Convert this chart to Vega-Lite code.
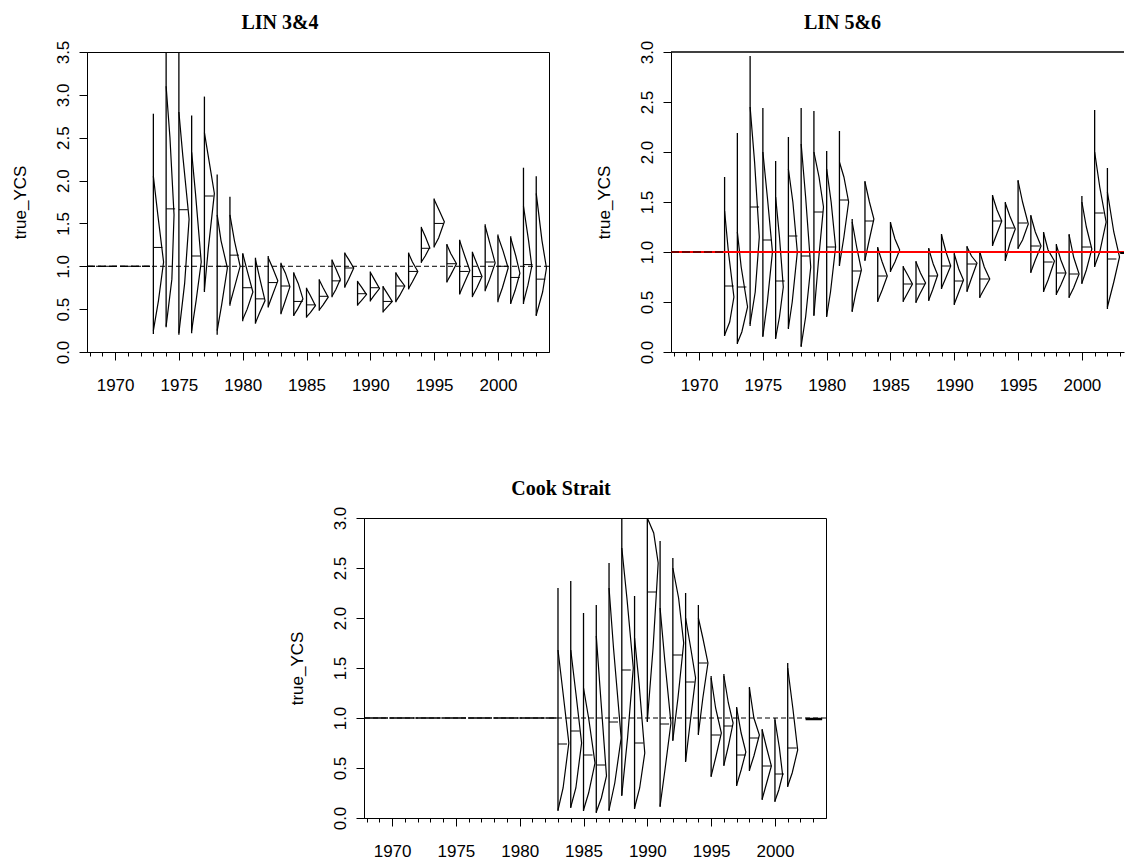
{
"$schema": "https://vega.github.io/schema/vega-lite/v6.json",
"padding": {"left": 10, "top": 12, "right": 0, "bottom": 0},
"background": "white",
"config": {
 "view": {"stroke": "black", "strokeWidth": 1},
 "font": "Liberation Sans",
 "axis": {"domainColor": "black", "tickColor": "black", "labelColor": "black", "titleColor": "black", "labelFont": "Liberation Sans", "titleFont": "Liberation Sans", "labelFontSize": 17, "titleFontSize": 17, "titleFontWeight": "normal", "grid": false, "domainWidth": 1, "tickWidth": 1, "labelFlush": false, "labelOverlap": false},
 "axisY": {"labelAngle": -90, "labelAlign": "center", "labelBaseline": "bottom", "tickSize": 8, "labelPadding": 7, "titlePadding": 25},
 "axisX": {"labelPadding": 17},
 "title": {"font": "Liberation Serif", "fontSize": 20, "fontWeight": "bold", "color": "black", "anchor": "middle", "frame": "group", "baseline": "alphabetic", "offset": 7}
},
"datasets": {
 "s1": [
  {"yr":1973,"lo":0.21,"hi":2.78,"med":1.22},{"yr":1974,"lo":0.29,"hi":3.5,"med":1.67},{"yr":1975,"lo":0.2,"hi":3.5,"med":1.66},{"yr":1976,"lo":0.22,"hi":2.76,"med":1.12},{"yr":1977,"lo":0.7,"hi":2.98,"med":1.82},{"yr":1978,"lo":0.2,"hi":2.07,"med":1.0},{"yr":1979,"lo":0.54,"hi":1.81,"med":1.13},{"yr":1980,"lo":0.36,"hi":1.15,"med":0.75},{"yr":1981,"lo":0.33,"hi":1.1,"med":0.62},{"yr":1982,"lo":0.52,"hi":1.12,"med":0.81},{"yr":1983,"lo":0.44,"hi":1.04,"med":0.77},{"yr":1984,"lo":0.42,"hi":0.93,"med":0.59},{"yr":1985,"lo":0.4,"hi":0.75,"med":0.55},{"yr":1986,"lo":0.48,"hi":0.85,"med":0.65},{"yr":1987,"lo":0.64,"hi":1.08,"med":0.83},{"yr":1988,"lo":0.75,"hi":1.16,"med":0.98},{"yr":1989,"lo":0.54,"hi":0.83,"med":0.68},{"yr":1990,"lo":0.59,"hi":0.94,"med":0.75},{"yr":1991,"lo":0.46,"hi":0.77,"med":0.59},{"yr":1992,"lo":0.58,"hi":0.93,"med":0.77},{"yr":1993,"lo":0.73,"hi":1.16,"med":0.94},{"yr":1994,"lo":1.04,"hi":1.46,"med":1.21},{"yr":1995,"lo":1.22,"hi":1.79,"med":1.5},{"yr":1996,"lo":0.81,"hi":1.26,"med":1.03},{"yr":1997,"lo":0.67,"hi":1.31,"med":0.94},{"yr":1998,"lo":0.64,"hi":1.17,"med":0.88},{"yr":1999,"lo":0.71,"hi":1.49,"med":1.05},{"yr":2000,"lo":0.58,"hi":1.37,"med":1.0},{"yr":2001,"lo":0.56,"hi":1.35,"med":0.87},{"yr":2002,"lo":0.56,"hi":2.15,"med":1.02},{"yr":2003,"lo":0.42,"hi":2.05,"med":0.85}
 ],
 "c1": [
  {"yr":1973,"x":1973,"y":2.05},{"yr":1973,"x":1973.35,"y":1.6},{"yr":1973,"x":1973.8,"y":1.05},{"yr":1973,"x":1973.4,"y":0.6},{"yr":1973,"x":1973,"y":0.25},
  {"yr":1974,"x":1974,"y":3.1},{"yr":1974,"x":1974.3,"y":2.5},{"yr":1974,"x":1974.62,"y":1.6},{"yr":1974,"x":1974.45,"y":0.85},{"yr":1974,"x":1974,"y":0.3},
  {"yr":1975,"x":1975,"y":2.8},{"yr":1975,"x":1975.3,"y":2.3},{"yr":1975,"x":1975.8,"y":1.55},{"yr":1975,"x":1975.45,"y":0.8},{"yr":1975,"x":1975,"y":0.22},
  {"yr":1976,"x":1976,"y":2.33},{"yr":1976,"x":1976.3,"y":1.85},{"yr":1976,"x":1976.75,"y":1.05},{"yr":1976,"x":1976.35,"y":0.6},{"yr":1976,"x":1976,"y":0.25},
  {"yr":1977,"x":1977,"y":2.56},{"yr":1977,"x":1977.45,"y":2.15},{"yr":1977,"x":1977.78,"y":1.85},{"yr":1977,"x":1977.3,"y":1.2},{"yr":1977,"x":1977,"y":0.72},
  {"yr":1978,"x":1978,"y":1.6},{"yr":1978,"x":1978.3,"y":1.3},{"yr":1978,"x":1978.8,"y":0.98},{"yr":1978,"x":1978.35,"y":0.55},{"yr":1978,"x":1978,"y":0.25},
  {"yr":1979,"x":1979,"y":1.6},{"yr":1979,"x":1979.35,"y":1.3},{"yr":1979,"x":1979.8,"y":1.0},{"yr":1979,"x":1979.35,"y":0.75},{"yr":1979,"x":1979,"y":0.56},
  {"yr":1980,"x":1980,"y":1.15},{"yr":1980,"x":1980.35,"y":0.95},{"yr":1980,"x":1980.8,"y":0.7},{"yr":1980,"x":1980.35,"y":0.5},{"yr":1980,"x":1980,"y":0.38},
  {"yr":1981,"x":1981,"y":1.08},{"yr":1981,"x":1981.35,"y":0.85},{"yr":1981,"x":1981.75,"y":0.6},{"yr":1981,"x":1981.3,"y":0.45},{"yr":1981,"x":1981,"y":0.34},
  {"yr":1982,"x":1982,"y":1.1},{"yr":1982,"x":1982.35,"y":0.98},{"yr":1982,"x":1982.75,"y":0.83},{"yr":1982,"x":1982.3,"y":0.65},{"yr":1982,"x":1982,"y":0.53},
  {"yr":1983,"x":1983,"y":1.03},{"yr":1983,"x":1983.35,"y":0.92},{"yr":1983,"x":1983.7,"y":0.76},{"yr":1983,"x":1983.3,"y":0.58},{"yr":1983,"x":1983,"y":0.45},
  {"yr":1984,"x":1984,"y":0.92},{"yr":1984,"x":1984.35,"y":0.8},{"yr":1984,"x":1984.72,"y":0.62},{"yr":1984,"x":1984.3,"y":0.5},{"yr":1984,"x":1984,"y":0.43},
  {"yr":1985,"x":1985,"y":0.74},{"yr":1985,"x":1985.3,"y":0.66},{"yr":1985,"x":1985.7,"y":0.54},{"yr":1985,"x":1985.3,"y":0.46},{"yr":1985,"x":1985,"y":0.41},
  {"yr":1986,"x":1986,"y":0.84},{"yr":1986,"x":1986.3,"y":0.75},{"yr":1986,"x":1986.7,"y":0.64},{"yr":1986,"x":1986.3,"y":0.55},{"yr":1986,"x":1986,"y":0.49},
  {"yr":1987,"x":1987,"y":1.07},{"yr":1987,"x":1987.3,"y":0.97},{"yr":1987,"x":1987.65,"y":0.85},{"yr":1987,"x":1987.3,"y":0.73},{"yr":1987,"x":1987,"y":0.65},
  {"yr":1988,"x":1988,"y":1.15},{"yr":1988,"x":1988.3,"y":1.08},{"yr":1988,"x":1988.7,"y":0.98},{"yr":1988,"x":1988.3,"y":0.85},{"yr":1988,"x":1988,"y":0.76},
  {"yr":1989,"x":1989,"y":0.82},{"yr":1989,"x":1989.3,"y":0.76},{"yr":1989,"x":1989.7,"y":0.67},{"yr":1989,"x":1989.3,"y":0.6},{"yr":1989,"x":1989,"y":0.55},
  {"yr":1990,"x":1990,"y":0.93},{"yr":1990,"x":1990.3,"y":0.85},{"yr":1990,"x":1990.72,"y":0.74},{"yr":1990,"x":1990.3,"y":0.66},{"yr":1990,"x":1990,"y":0.6},
  {"yr":1991,"x":1991,"y":0.76},{"yr":1991,"x":1991.3,"y":0.69},{"yr":1991,"x":1991.72,"y":0.59},{"yr":1991,"x":1991.3,"y":0.52},{"yr":1991,"x":1991,"y":0.47},
  {"yr":1992,"x":1992,"y":0.92},{"yr":1992,"x":1992.3,"y":0.85},{"yr":1992,"x":1992.7,"y":0.77},{"yr":1992,"x":1992.3,"y":0.66},{"yr":1992,"x":1992,"y":0.59},
  {"yr":1993,"x":1993,"y":1.15},{"yr":1993,"x":1993.3,"y":1.05},{"yr":1993,"x":1993.72,"y":0.94},{"yr":1993,"x":1993.3,"y":0.82},{"yr":1993,"x":1993,"y":0.74},
  {"yr":1994,"x":1994,"y":1.45},{"yr":1994,"x":1994.3,"y":1.35},{"yr":1994,"x":1994.65,"y":1.22},{"yr":1994,"x":1994.3,"y":1.12},{"yr":1994,"x":1994,"y":1.05},
  {"yr":1995,"x":1995,"y":1.78},{"yr":1995,"x":1995.4,"y":1.65},{"yr":1995,"x":1995.8,"y":1.52},{"yr":1995,"x":1995.35,"y":1.33},{"yr":1995,"x":1995,"y":1.23},
  {"yr":1996,"x":1996,"y":1.25},{"yr":1996,"x":1996.3,"y":1.15},{"yr":1996,"x":1996.75,"y":1.03},{"yr":1996,"x":1996.3,"y":0.9},{"yr":1996,"x":1996,"y":0.82},
  {"yr":1997,"x":1997,"y":1.3},{"yr":1997,"x":1997.4,"y":1.12},{"yr":1997,"x":1997.8,"y":0.95},{"yr":1997,"x":1997.35,"y":0.8},{"yr":1997,"x":1997,"y":0.68},
  {"yr":1998,"x":1998,"y":1.16},{"yr":1998,"x":1998.35,"y":1.03},{"yr":1998,"x":1998.75,"y":0.88},{"yr":1998,"x":1998.35,"y":0.75},{"yr":1998,"x":1998,"y":0.65},
  {"yr":1999,"x":1999,"y":1.47},{"yr":1999,"x":1999.4,"y":1.25},{"yr":1999,"x":1999.78,"y":1.04},{"yr":1999,"x":1999.35,"y":0.85},{"yr":1999,"x":1999,"y":0.72},
  {"yr":2000,"x":2000,"y":1.35},{"yr":2000,"x":2000.4,"y":1.18},{"yr":2000,"x":2000.8,"y":0.98},{"yr":2000,"x":2000.35,"y":0.75},{"yr":2000,"x":2000,"y":0.6},
  {"yr":2001,"x":2001,"y":1.33},{"yr":2001,"x":2001.4,"y":1.12},{"yr":2001,"x":2001.72,"y":0.92},{"yr":2001,"x":2001.35,"y":0.72},{"yr":2001,"x":2001,"y":0.57},
  {"yr":2002,"x":2002,"y":1.7},{"yr":2002,"x":2002.4,"y":1.3},{"yr":2002,"x":2002.65,"y":1.0},{"yr":2002,"x":2002.35,"y":0.78},{"yr":2002,"x":2002,"y":0.58},
  {"yr":2003,"x":2003,"y":1.85},{"yr":2003,"x":2003.45,"y":1.3},{"yr":2003,"x":2003.8,"y":0.98},{"yr":2003,"x":2003.5,"y":0.7},{"yr":2003,"x":2003,"y":0.43}
 ],
 "s2": [
  {"yr":1972,"lo":0.16,"hi":1.75,"med":0.66},{"yr":1973,"lo":0.08,"hi":2.19,"med":0.65},{"yr":1974,"lo":0.26,"hi":2.96,"med":1.45},{"yr":1975,"lo":0.15,"hi":2.44,"med":1.12},{"yr":1976,"lo":0.13,"hi":1.91,"med":0.71},{"yr":1977,"lo":0.23,"hi":2.15,"med":1.16},{"yr":1978,"lo":0.05,"hi":2.44,"med":0.96},{"yr":1979,"lo":0.36,"hi":2.41,"med":1.4},{"yr":1980,"lo":0.35,"hi":2.01,"med":1.05},{"yr":1981,"lo":0.86,"hi":2.21,"med":1.52},{"yr":1982,"lo":0.4,"hi":1.33,"med":0.81},{"yr":1983,"lo":0.91,"hi":1.71,"med":1.31},{"yr":1984,"lo":0.5,"hi":1.05,"med":0.76},{"yr":1985,"lo":0.8,"hi":1.3,"med":1.0},{"yr":1986,"lo":0.5,"hi":0.86,"med":0.68},{"yr":1987,"lo":0.49,"hi":0.91,"med":0.68},{"yr":1988,"lo":0.51,"hi":1.04,"med":0.76},{"yr":1989,"lo":0.63,"hi":1.18,"med":0.86},{"yr":1990,"lo":0.47,"hi":0.99,"med":0.71},{"yr":1991,"lo":0.6,"hi":1.06,"med":0.88},{"yr":1992,"lo":0.54,"hi":1.01,"med":0.73},{"yr":1993,"lo":1.06,"hi":1.57,"med":1.31},{"yr":1994,"lo":0.91,"hi":1.5,"med":1.24},{"yr":1995,"lo":1.03,"hi":1.72,"med":1.29},{"yr":1996,"lo":0.79,"hi":1.37,"med":1.06},{"yr":1997,"lo":0.6,"hi":1.2,"med":0.9},{"yr":1998,"lo":0.57,"hi":1.08,"med":0.79},{"yr":1999,"lo":0.54,"hi":1.18,"med":0.78},{"yr":2000,"lo":0.68,"hi":1.56,"med":1.05},{"yr":2001,"lo":0.85,"hi":2.42,"med":1.39},{"yr":2002,"lo":0.43,"hi":1.84,"med":0.93}
 ],
 "c2": [
  {"yr":1972,"x":1972,"y":1.41},{"yr":1972,"x":1972.3,"y":1.0},{"yr":1972,"x":1972.73,"y":0.55},{"yr":1972,"x":1972.4,"y":0.3},{"yr":1972,"x":1972,"y":0.17},
  {"yr":1973,"x":1973,"y":1.2},{"yr":1973,"x":1973.3,"y":0.85},{"yr":1973,"x":1973.8,"y":0.45},{"yr":1973,"x":1973.35,"y":0.2},{"yr":1973,"x":1973,"y":0.09},
  {"yr":1974,"x":1974,"y":2.45},{"yr":1974,"x":1974.35,"y":1.9},{"yr":1974,"x":1974.72,"y":1.15},{"yr":1974,"x":1974.4,"y":0.6},{"yr":1974,"x":1974,"y":0.28},
  {"yr":1975,"x":1975,"y":2.0},{"yr":1975,"x":1975.35,"y":1.55},{"yr":1975,"x":1975.75,"y":1.0},{"yr":1975,"x":1975.35,"y":0.5},{"yr":1975,"x":1975,"y":0.16},
  {"yr":1976,"x":1976,"y":1.55},{"yr":1976,"x":1976.3,"y":1.15},{"yr":1976,"x":1976.6,"y":0.65},{"yr":1976,"x":1976.3,"y":0.35},{"yr":1976,"x":1976,"y":0.14},
  {"yr":1977,"x":1977,"y":1.83},{"yr":1977,"x":1977.35,"y":1.5},{"yr":1977,"x":1977.7,"y":1.0},{"yr":1977,"x":1977.3,"y":0.5},{"yr":1977,"x":1977,"y":0.24},
  {"yr":1978,"x":1978,"y":2.08},{"yr":1978,"x":1978.35,"y":1.55},{"yr":1978,"x":1978.75,"y":0.85},{"yr":1978,"x":1978.35,"y":0.35},{"yr":1978,"x":1978,"y":0.06},
  {"yr":1979,"x":1979,"y":2.0},{"yr":1979,"x":1979.4,"y":1.75},{"yr":1979,"x":1979.75,"y":1.45},{"yr":1979,"x":1979.35,"y":0.9},{"yr":1979,"x":1979,"y":0.37},
  {"yr":1980,"x":1980,"y":1.83},{"yr":1980,"x":1980.35,"y":1.5},{"yr":1980,"x":1980.7,"y":1.05},{"yr":1980,"x":1980.3,"y":0.6},{"yr":1980,"x":1980,"y":0.36},
  {"yr":1981,"x":1981,"y":1.9},{"yr":1981,"x":1981.35,"y":1.75},{"yr":1981,"x":1981.72,"y":1.5},{"yr":1981,"x":1981.35,"y":1.15},{"yr":1981,"x":1981,"y":0.87},
  {"yr":1982,"x":1982,"y":1.3},{"yr":1982,"x":1982.35,"y":1.05},{"yr":1982,"x":1982.72,"y":0.82},{"yr":1982,"x":1982.3,"y":0.6},{"yr":1982,"x":1982,"y":0.41},
  {"yr":1983,"x":1983,"y":1.7},{"yr":1983,"x":1983.35,"y":1.5},{"yr":1983,"x":1983.7,"y":1.33},{"yr":1983,"x":1983.3,"y":1.1},{"yr":1983,"x":1983,"y":0.92},
  {"yr":1984,"x":1984,"y":1.04},{"yr":1984,"x":1984.35,"y":0.9},{"yr":1984,"x":1984.75,"y":0.76},{"yr":1984,"x":1984.35,"y":0.62},{"yr":1984,"x":1984,"y":0.51},
  {"yr":1985,"x":1985,"y":1.29},{"yr":1985,"x":1985.35,"y":1.13},{"yr":1985,"x":1985.72,"y":1.02},{"yr":1985,"x":1985.35,"y":0.9},{"yr":1985,"x":1985,"y":0.81},
  {"yr":1986,"x":1986,"y":0.85},{"yr":1986,"x":1986.35,"y":0.77},{"yr":1986,"x":1986.72,"y":0.68},{"yr":1986,"x":1986.3,"y":0.58},{"yr":1986,"x":1986,"y":0.51},
  {"yr":1987,"x":1987,"y":0.9},{"yr":1987,"x":1987.35,"y":0.79},{"yr":1987,"x":1987.75,"y":0.69},{"yr":1987,"x":1987.3,"y":0.58},{"yr":1987,"x":1987,"y":0.5},
  {"yr":1988,"x":1988,"y":1.03},{"yr":1988,"x":1988.35,"y":0.88},{"yr":1988,"x":1988.7,"y":0.77},{"yr":1988,"x":1988.3,"y":0.62},{"yr":1988,"x":1988,"y":0.52},
  {"yr":1989,"x":1989,"y":1.17},{"yr":1989,"x":1989.35,"y":1.0},{"yr":1989,"x":1989.72,"y":0.86},{"yr":1989,"x":1989.3,"y":0.73},{"yr":1989,"x":1989,"y":0.64},
  {"yr":1990,"x":1990,"y":0.98},{"yr":1990,"x":1990.35,"y":0.83},{"yr":1990,"x":1990.72,"y":0.72},{"yr":1990,"x":1990.3,"y":0.58},{"yr":1990,"x":1990,"y":0.48},
  {"yr":1991,"x":1991,"y":1.05},{"yr":1991,"x":1991.35,"y":0.96},{"yr":1991,"x":1991.78,"y":0.89},{"yr":1991,"x":1991.3,"y":0.72},{"yr":1991,"x":1991,"y":0.61},
  {"yr":1992,"x":1992,"y":1.0},{"yr":1992,"x":1992.35,"y":0.85},{"yr":1992,"x":1992.78,"y":0.73},{"yr":1992,"x":1992.3,"y":0.62},{"yr":1992,"x":1992,"y":0.55},
  {"yr":1993,"x":1993,"y":1.56},{"yr":1993,"x":1993.35,"y":1.42},{"yr":1993,"x":1993.72,"y":1.31},{"yr":1993,"x":1993.3,"y":1.17},{"yr":1993,"x":1993,"y":1.07},
  {"yr":1994,"x":1994,"y":1.49},{"yr":1994,"x":1994.35,"y":1.36},{"yr":1994,"x":1994.78,"y":1.23},{"yr":1994,"x":1994.35,"y":1.08},{"yr":1994,"x":1994,"y":0.92},
  {"yr":1995,"x":1995,"y":1.71},{"yr":1995,"x":1995.35,"y":1.5},{"yr":1995,"x":1995.8,"y":1.28},{"yr":1995,"x":1995.35,"y":1.12},{"yr":1995,"x":1995,"y":1.04},
  {"yr":1996,"x":1996,"y":1.36},{"yr":1996,"x":1996.35,"y":1.2},{"yr":1996,"x":1996.8,"y":1.06},{"yr":1996,"x":1996.35,"y":0.92},{"yr":1996,"x":1996,"y":0.8},
  {"yr":1997,"x":1997,"y":1.19},{"yr":1997,"x":1997.35,"y":1.02},{"yr":1997,"x":1997.85,"y":0.91},{"yr":1997,"x":1997.35,"y":0.72},{"yr":1997,"x":1997,"y":0.61},
  {"yr":1998,"x":1998,"y":1.07},{"yr":1998,"x":1998.35,"y":0.92},{"yr":1998,"x":1998.75,"y":0.79},{"yr":1998,"x":1998.35,"y":0.67},{"yr":1998,"x":1998,"y":0.58},
  {"yr":1999,"x":1999,"y":1.17},{"yr":1999,"x":1999.35,"y":0.95},{"yr":1999,"x":1999.78,"y":0.78},{"yr":1999,"x":1999.35,"y":0.64},{"yr":1999,"x":1999,"y":0.55},
  {"yr":2000,"x":2000,"y":1.5},{"yr":2000,"x":2000.35,"y":1.25},{"yr":2000,"x":2000.78,"y":1.03},{"yr":2000,"x":2000.35,"y":0.82},{"yr":2000,"x":2000,"y":0.69},
  {"yr":2001,"x":2001,"y":2.0},{"yr":2001,"x":2001.4,"y":1.65},{"yr":2001,"x":2001.9,"y":1.3},{"yr":2001,"x":2001.4,"y":1.0},{"yr":2001,"x":2001,"y":0.86},
  {"yr":2002,"x":2002,"y":1.6},{"yr":2002,"x":2002.5,"y":1.2},{"yr":2002,"x":2002.95,"y":0.95},{"yr":2002,"x":2002.5,"y":0.7},{"yr":2002,"x":2002,"y":0.45}
 ],
 "s3": [
  {"yr":1983,"lo":0.07,"hi":2.3,"med":0.74},{"yr":1984,"lo":0.1,"hi":2.37,"med":0.87},{"yr":1985,"lo":0.07,"hi":2.05,"med":0.63},{"yr":1986,"lo":0.05,"hi":2.13,"med":0.53},{"yr":1987,"lo":0.07,"hi":2.55,"med":0.96},{"yr":1988,"lo":0.22,"hi":3.0,"med":1.48},{"yr":1989,"lo":0.09,"hi":2.22,"med":0.75},{"yr":1990,"lo":0.96,"hi":3.0,"med":2.26},{"yr":1991,"lo":0.11,"hi":2.77,"med":0.94},{"yr":1992,"lo":0.77,"hi":2.6,"med":1.63},{"yr":1993,"lo":0.56,"hi":2.25,"med":1.36},{"yr":1994,"lo":0.83,"hi":2.13,"med":1.55},{"yr":1995,"lo":0.41,"hi":1.42,"med":0.83},{"yr":1996,"lo":0.52,"hi":1.44,"med":0.92},{"yr":1997,"lo":0.32,"hi":1.11,"med":0.63},{"yr":1998,"lo":0.47,"hi":1.31,"med":0.8},{"yr":1999,"lo":0.18,"hi":0.89,"med":0.52},{"yr":2000,"lo":0.16,"hi":1.0,"med":0.44},{"yr":2001,"lo":0.31,"hi":1.55,"med":0.7}
 ],
 "c3": [
  {"yr":1983,"x":1983,"y":1.68},{"yr":1983,"x":1983.35,"y":1.3},{"yr":1983,"x":1983.85,"y":0.75},{"yr":1983,"x":1983.4,"y":0.3},{"yr":1983,"x":1983,"y":0.08},
  {"yr":1984,"x":1984,"y":1.68},{"yr":1984,"x":1984.4,"y":1.25},{"yr":1984,"x":1984.85,"y":0.75},{"yr":1984,"x":1984.4,"y":0.3},{"yr":1984,"x":1984,"y":0.11},
  {"yr":1985,"x":1985,"y":1.3},{"yr":1985,"x":1985.4,"y":1.0},{"yr":1985,"x":1985.9,"y":0.55},{"yr":1985,"x":1985.4,"y":0.25},{"yr":1985,"x":1985,"y":0.08},
  {"yr":1986,"x":1986,"y":1.82},{"yr":1986,"x":1986.35,"y":1.2},{"yr":1986,"x":1986.8,"y":0.42},{"yr":1986,"x":1986.4,"y":0.2},{"yr":1986,"x":1986,"y":0.06},
  {"yr":1987,"x":1987,"y":2.3},{"yr":1987,"x":1987.35,"y":1.7},{"yr":1987,"x":1987.95,"y":0.8},{"yr":1987,"x":1987.45,"y":0.35},{"yr":1987,"x":1987,"y":0.08},
  {"yr":1988,"x":1988,"y":2.7},{"yr":1988,"x":1988.4,"y":2.2},{"yr":1988,"x":1988.9,"y":1.5},{"yr":1988,"x":1988.45,"y":0.8},{"yr":1988,"x":1988,"y":0.23},
  {"yr":1989,"x":1989,"y":1.8},{"yr":1989,"x":1989.35,"y":1.35},{"yr":1989,"x":1989.8,"y":0.65},{"yr":1989,"x":1989.4,"y":0.3},{"yr":1989,"x":1989,"y":0.1},
  {"yr":1990,"x":1990,"y":3.0},{"yr":1990,"x":1990.5,"y":2.85},{"yr":1990,"x":1990.85,"y":2.55},{"yr":1990,"x":1990.45,"y":1.7},{"yr":1990,"x":1990,"y":0.97},
  {"yr":1991,"x":1991,"y":2.1},{"yr":1991,"x":1991.35,"y":1.6},{"yr":1991,"x":1991.85,"y":0.95},{"yr":1991,"x":1991.4,"y":0.5},{"yr":1991,"x":1991,"y":0.12},
  {"yr":1992,"x":1992,"y":2.5},{"yr":1992,"x":1992.45,"y":2.2},{"yr":1992,"x":1992.85,"y":1.75},{"yr":1992,"x":1992.4,"y":1.2},{"yr":1992,"x":1992,"y":0.78},
  {"yr":1993,"x":1993,"y":2.0},{"yr":1993,"x":1993.4,"y":1.7},{"yr":1993,"x":1993.78,"y":1.4},{"yr":1993,"x":1993.4,"y":1.0},{"yr":1993,"x":1993,"y":0.57},
  {"yr":1994,"x":1994,"y":2.0},{"yr":1994,"x":1994.35,"y":1.8},{"yr":1994,"x":1994.75,"y":1.55},{"yr":1994,"x":1994.35,"y":1.2},{"yr":1994,"x":1994,"y":0.84},
  {"yr":1995,"x":1995,"y":1.4},{"yr":1995,"x":1995.35,"y":1.1},{"yr":1995,"x":1995.8,"y":0.85},{"yr":1995,"x":1995.35,"y":0.6},{"yr":1995,"x":1995,"y":0.42},
  {"yr":1996,"x":1996,"y":1.42},{"yr":1996,"x":1996.35,"y":1.15},{"yr":1996,"x":1996.72,"y":0.95},{"yr":1996,"x":1996.35,"y":0.72},{"yr":1996,"x":1996,"y":0.53},
  {"yr":1997,"x":1997,"y":1.1},{"yr":1997,"x":1997.35,"y":0.85},{"yr":1997,"x":1997.72,"y":0.66},{"yr":1997,"x":1997.35,"y":0.48},{"yr":1997,"x":1997,"y":0.33},
  {"yr":1998,"x":1998,"y":1.3},{"yr":1998,"x":1998.35,"y":1.0},{"yr":1998,"x":1998.78,"y":0.83},{"yr":1998,"x":1998.35,"y":0.62},{"yr":1998,"x":1998,"y":0.48},
  {"yr":1999,"x":1999,"y":0.88},{"yr":1999,"x":1999.35,"y":0.7},{"yr":1999,"x":1999.72,"y":0.52},{"yr":1999,"x":1999.35,"y":0.35},{"yr":1999,"x":1999,"y":0.19},
  {"yr":2000,"x":2000,"y":0.98},{"yr":2000,"x":2000.35,"y":0.7},{"yr":2000,"x":2000.6,"y":0.43},{"yr":2000,"x":2000.3,"y":0.28},{"yr":2000,"x":2000,"y":0.17},
  {"yr":2001,"x":2001,"y":1.5},{"yr":2001,"x":2001.4,"y":1.1},{"yr":2001,"x":2001.78,"y":0.68},{"yr":2001,"x":2001.35,"y":0.45},{"yr":2001,"x":2001,"y":0.32}
 ]
},
"spacing": 84,
"vconcat": [
 {
  "hconcat": [
   {
    "width": 462, "height": 300,
    "title": {"text": "LIN 3&4", "dx": -38},
    "resolve": {"axis": {"x": "independent"}},
    "layer": [
     {"data": {"name": "s1"}, "mark": {"type": "rule", "color": "black", "strokeWidth": 1.3, "clip": true},
      "encoding": {"x": {"field": "yr", "type": "quantitative", "scale": {"domain": [1967.8, 2004.0], "nice": false, "zero": false}, "axis": {"values": [1970, 1975, 1980, 1985, 1990, 1995, 2000], "format": "d", "tickSize": 8, "title": null, "orient": "bottom"}}, "y": {"field": "lo", "type": "quantitative", "scale": {"domain": [0, 3.5], "nice": false, "zero": false}, "axis": {"values": [0, 0.5, 1, 1.5, 2, 2.5, 3, 3.5], "format": ".1f", "title": "true_YCS"}}, "y2": {"field": "hi"}}},
     {"data": {"values": [{}]}, "mark": {"type": "rule", "color": "black", "strokeDash": [5, 3], "strokeWidth": 1},
      "encoding": {"y": {"datum": 1, "type": "quantitative"}}},
     {"data": {"values": [{}]}, "mark": {"type": "rule", "color": "black", "strokeDash": [8, 3], "strokeWidth": 1.5},
      "encoding": {"x": {"datum": 1967.8, "type": "quantitative", "axis": null}, "x2": {"datum": 1972.9}, "y": {"datum": 1, "type": "quantitative"}}},
     {"data": {"name": "c1"}, "mark": {"type": "line", "color": "black", "strokeWidth": 1.2, "clip": true},
      "encoding": {"x": {"field": "x", "type": "quantitative", "axis": null}, "y": {"field": "y", "type": "quantitative"}, "detail": {"field": "yr", "type": "nominal"}, "order": {"field": "y", "sort": "descending"}}},
     {"data": {"name": "s1"}, "mark": {"type": "tick", "orient": "horizontal", "size": 9, "thickness": 1, "xOffset": 4.5, "color": "black", "opacity": 1, "clip": true},
      "encoding": {"x": {"field": "yr", "type": "quantitative", "axis": {"values": [1968,1969,1970,1971,1972,1973,1974,1975,1976,1977,1978,1979,1980,1981,1982,1983,1984,1985,1986,1987,1988,1989,1990,1991,1992,1993,1994,1995,1996,1997,1998,1999,2000,2001,2002,2003], "labels": false, "domain": false, "tickSize": 4, "title": null, "orient": "bottom"}}, "y": {"field": "med", "type": "quantitative"}}}
    ]
   },
   {
    "width": 453, "height": 300,
    "view": {"stroke": null},
    "title": {"text": "LIN 5&6", "dx": -55},
    "resolve": {"axis": {"x": "independent"}},
    "layer": [
     {"data": {"name": "s2"}, "mark": {"type": "rule", "color": "black", "strokeWidth": 1.3, "clip": true},
      "encoding": {"x": {"field": "yr", "type": "quantitative", "scale": {"domain": [1967.8, 2003.3], "nice": false, "zero": false}, "axis": {"values": [1970, 1975, 1980, 1985, 1990, 1995, 2000], "format": "d", "tickSize": 8, "title": null, "orient": "bottom"}}, "y": {"field": "lo", "type": "quantitative", "scale": {"domain": [0, 3], "nice": false, "zero": false}, "axis": {"values": [0, 0.5, 1, 1.5, 2, 2.5, 3], "format": ".1f", "title": "true_YCS"}}, "y2": {"field": "hi"}}},
     {"data": {"values": [{}]}, "mark": {"type": "rule", "color": "black", "strokeWidth": 1.5},
      "encoding": {"y": {"datum": 3, "type": "quantitative"}}},
     {"data": {"name": "c2"}, "mark": {"type": "line", "color": "black", "strokeWidth": 1.2, "clip": true},
      "encoding": {"x": {"field": "x", "type": "quantitative", "axis": null}, "y": {"field": "y", "type": "quantitative"}, "detail": {"field": "yr", "type": "nominal"}, "order": {"field": "y", "sort": "descending"}}},
     {"data": {"name": "s2"}, "mark": {"type": "tick", "orient": "horizontal", "size": 9, "thickness": 1, "xOffset": 4.5, "color": "black", "opacity": 1, "clip": true},
      "encoding": {"x": {"field": "yr", "type": "quantitative", "axis": {"values": [1968,1969,1970,1971,1972,1973,1974,1975,1976,1977,1978,1979,1980,1981,1982,1983,1984,1985,1986,1987,1988,1989,1990,1991,1992,1993,1994,1995,1996,1997,1998,1999,2000,2001,2002,2003], "labels": false, "domain": false, "tickSize": 4, "title": null, "orient": "bottom"}}, "y": {"field": "med", "type": "quantitative"}}},
     {"data": {"values": [{}]}, "mark": {"type": "rule", "color": "#ff0000", "strokeWidth": 2},
      "encoding": {"y": {"datum": 1, "type": "quantitative"}}},
     {"data": {"values": [{}]}, "mark": {"type": "rule", "color": "black", "strokeDash": [8, 3], "strokeWidth": 2, "opacity": 0.55},
      "encoding": {"x": {"datum": 1967.8, "type": "quantitative", "axis": null}, "x2": {"datum": 1971.9}, "y": {"datum": 1, "type": "quantitative"}}},
     {"data": {"values": [{}]}, "mark": {"type": "rule", "color": "black", "strokeWidth": 2, "clip": true},
      "encoding": {"x": {"datum": 2003.0, "type": "quantitative", "axis": null}, "x2": {"datum": 2003.3}, "y": {"datum": 0.99, "type": "quantitative"}}}
    ]
   }
  ],
  "spacing": 122,
  "bounds": "flush"
 },
 {
  "hconcat": [
   {"width": 1, "height": 300, "view": {"stroke": null}, "data": {"values": [{}]}, "mark": {"type": "point", "opacity": 0}},
   {
    "width": 462, "height": 300,
    "title": {"text": "Cook Strait", "dx": -34},
    "resolve": {"axis": {"x": "independent"}},
    "layer": [
     {"data": {"name": "s3"}, "mark": {"type": "rule", "color": "black", "strokeWidth": 1.3, "clip": true},
      "encoding": {"x": {"field": "yr", "type": "quantitative", "scale": {"domain": [1967.8, 2004.0], "nice": false, "zero": false}, "axis": {"values": [1970, 1975, 1980, 1985, 1990, 1995, 2000], "format": "d", "tickSize": 8, "title": null, "orient": "bottom"}}, "y": {"field": "lo", "type": "quantitative", "scale": {"domain": [0, 3], "nice": false, "zero": false}, "axis": {"values": [0, 0.5, 1, 1.5, 2, 2.5, 3], "format": ".1f", "title": "true_YCS"}}, "y2": {"field": "hi"}}},
     {"data": {"values": [{}]}, "mark": {"type": "rule", "color": "black", "strokeDash": [5, 3], "strokeWidth": 1},
      "encoding": {"y": {"datum": 1, "type": "quantitative"}}},
     {"data": {"values": [{}]}, "mark": {"type": "rule", "color": "black", "strokeDash": [24, 2], "strokeWidth": 1.5},
      "encoding": {"x": {"datum": 1967.8, "type": "quantitative", "axis": null}, "x2": {"datum": 1982.9}, "y": {"datum": 1, "type": "quantitative"}}},
     {"data": {"values": [{}]}, "mark": {"type": "rule", "color": "black", "strokeWidth": 2.5},
      "encoding": {"x": {"datum": 2002.4, "type": "quantitative", "axis": null}, "x2": {"datum": 2003.7}, "y": {"datum": 0.99, "type": "quantitative"}}},
     {"data": {"name": "c3"}, "mark": {"type": "line", "color": "black", "strokeWidth": 1.2, "clip": true},
      "encoding": {"x": {"field": "x", "type": "quantitative", "axis": null}, "y": {"field": "y", "type": "quantitative"}, "detail": {"field": "yr", "type": "nominal"}, "order": {"field": "y", "sort": "descending"}}},
     {"data": {"name": "s3"}, "mark": {"type": "tick", "orient": "horizontal", "size": 9, "thickness": 1, "xOffset": 4.5, "color": "black", "opacity": 1, "clip": true},
      "encoding": {"x": {"field": "yr", "type": "quantitative", "axis": {"values": [1968,1969,1970,1971,1972,1973,1974,1975,1976,1977,1978,1979,1980,1981,1982,1983,1984,1985,1986,1987,1988,1989,1990,1991,1992,1993,1994,1995,1996,1997,1998,1999,2000,2001,2002,2003], "labels": false, "domain": false, "tickSize": 4, "title": null, "orient": "bottom"}}, "y": {"field": "med", "type": "quantitative"}}}
    ]
   }
  ],
  "spacing": 276,
  "bounds": "flush"
 }
]
}
